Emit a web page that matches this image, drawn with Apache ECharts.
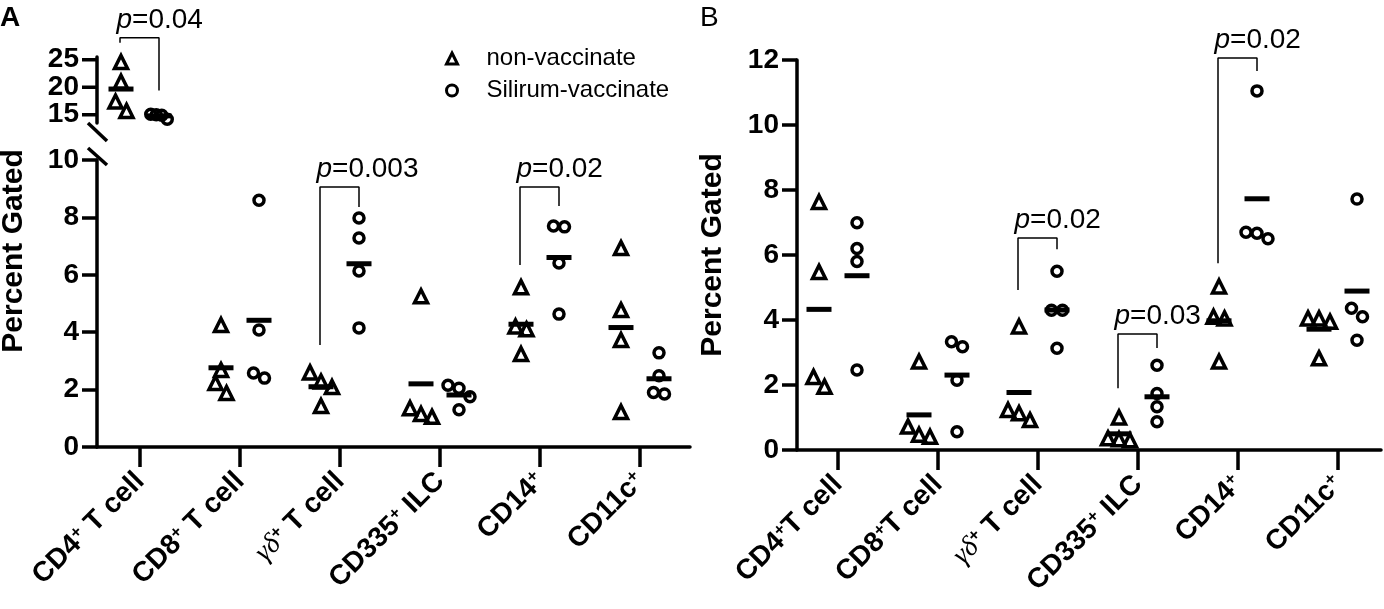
<!DOCTYPE html>
<html lang="en">
<head>
<meta charset="UTF-8">
<title>Percent Gated</title>
<script src="https://cdn.jsdelivr.net/npm/echarts@6/dist/echarts.min.js"></script>
<style>
  html, body { margin: 0; padding: 0; background: #fff; }
  #main { width: 1384px; height: 609px; }
</style>
</head>
<body>
<div id="main"></div>
<script>
// categories (a "+" becomes a superscript, "γδ" is set in serif italic)
var catsA = ['CD4+ T cell', 'CD8+ T cell', 'γδ+ T cell', 'CD335+ ILC', 'CD14+', 'CD11c+'];
var catsB = ['CD4+T cell', 'CD8+T cell', 'γδ+ T cell', 'CD335+ ILC', 'CD14+', 'CD11c+'];
var seriesNames = ['non-vaccinate', 'Silirum-vaccinate'];
var upperTicksA = [15, 20, 25];

// panel A values, one array per category
var nonVacA = [
    [24.6, 21.0, 17.4, 15.7],
    [4.25, 2.68, 2.23, 1.88],
    [2.6, 2.28, 2.09, 1.43],
    [5.25, 1.35, 1.15, 1.05],
    [5.57, 4.2, 4.1, 3.24],
    [6.93, 4.77, 3.73, 1.22]
];
var silA = [
    [15.1, 15.0, 14.9, 14.2],
    [8.6, 4.08, 2.58, 2.4],
    [7.98, 7.28, 6.13, 4.15],
    [2.15, 2.05, 1.75, 1.3],
    [7.7, 7.67, 6.41, 4.63],
    [3.28, 2.48, 1.9, 1.85]
];
// panel B values
var nonVacB = [
    [7.63, 5.48, 2.25, 1.95],
    [2.72, 0.72, 0.47, 0.41],
    [3.8, 1.23, 1.13, 0.92],
    [1.0, 0.36, 0.33, 0.3],
    [5.03, 4.1, 4.05, 2.72],
    [4.05, 4.05, 3.95, 2.82]
];
var silB = [
    [6.99, 6.2, 5.8, 2.46],
    [3.33, 3.18, 2.15, 0.56],
    [5.5, 4.3, 4.3, 3.13],
    [2.61, 1.74, 1.33, 0.87],
    [11.05, 6.7, 6.67, 6.5],
    [7.72, 4.36, 4.1, 3.38]
];

// p-value brackets: category, text, bracket top, left leg end, right leg end
var pA = [
    { cat: 0, p: '0.04', top: 29.0, l: 28.1, r: 19.4 },
    { cat: 2, p: '0.003', top: 9.06, l: 3.55, r: 8.36 },
    { cat: 4, p: '0.02', top: 9.06, l: 6.34, r: 8.4 }
];
var pB = [
    { cat: 2, p: '0.02', top: 6.52, l: 4.92, r: 6.18 },
    { cat: 3, p: '0.03', top: 3.57, l: 1.9, r: 3.14 },
    { cat: 4, p: '0.02', top: 12.06, l: 5.75, r: 11.66 }
];

var FONT = 'Arial, "Liberation Sans", Helvetica, sans-serif';
var LEFT_OFF = -0.19, RIGHT_OFF = 0.19;

function catLabel(s) {
    var out = '';
    var parts = s.split('+');
    parts.forEach(function (p, i) {
        if (p.indexOf('γδ') === 0) { out += '{g|γδ}'; p = p.slice(2); }
        if (p) out += '{b|' + p + '}';
        if (i < parts.length - 1) out += '{s|+}';
    });
    return out;
}

function mean(a) {
    var s = 0;
    a.forEach(function (v) { s += v; });
    return s / a.length;
}

// spread points that would sit on top of each other
function spread(vals, thr, step) {
    var idx = vals.map(function (v, i) { return i; }).sort(function (a, b) { return vals[b] - vals[a]; });
    var out = new Array(vals.length).fill(0);
    var clusters = [];
    idx.forEach(function (i) {
        var last = clusters[clusters.length - 1];
        if (last && Math.abs(vals[last[last.length - 1]] - vals[i]) < thr) last.push(i);
        else clusters.push([i]);
    });
    clusters.forEach(function (c) {
        c.forEach(function (i, j) { out[i] = (j - (c.length - 1) / 2) * step; });
    });
    return out;
}

function pointData(groups, offset, thr, step, cats) {
    var data = [];
    cats.forEach(function (c) {
        var vals = groups[c];
        var jit = spread(vals, thr, step);
        vals.forEach(function (v, k) { data.push([c + offset + jit[k], v]); });
    });
    return data;
}

function meanData(groups, offset, cats) {
    return cats.map(function (c) { return [c + offset, mean(groups[c])]; });
}

var pointStyle = { color: 'rgba(0,0,0,0)', borderColor: '#000', borderWidth: 3.5, opacity: 1 };

function panelSeries(tri, circ, cats, thr, step, axis) {
    return [
        {
            name: seriesNames[0], type: 'scatter', xAxisIndex: axis, yAxisIndex: axis,
            symbol: 'triangle', symbolSize: 13, itemStyle: pointStyle, z: 3,
            data: pointData(tri, LEFT_OFF, thr, 0.11, cats)
        },
        {
            name: seriesNames[1], type: 'scatter', xAxisIndex: axis, yAxisIndex: axis,
            symbol: 'circle', symbolSize: 10, itemStyle: pointStyle, z: 3,
            data: pointData(circ, RIGHT_OFF, thr, step, cats)
        },
        {
            name: 'mean', type: 'scatter', xAxisIndex: axis, yAxisIndex: axis,
            symbol: 'rect', symbolSize: [25, 5], itemStyle: { color: '#000', opacity: 1 }, z: 4,
            data: meanData(tri, LEFT_OFF, cats).concat(meanData(circ, RIGHT_OFF, cats))
        }
    ];
}

function bracketSeries(list, axis) {
    var out = [];
    list.forEach(function (b) {
        var x1 = b.cat - 0.2, x2 = b.cat + 0.19;
        out.push({
            name: 'bracket', type: 'line', xAxisIndex: axis, yAxisIndex: axis,
            symbol: 'none', clip: false, silent: true, z: 2,
            lineStyle: { color: '#000', width: 1.5, opacity: 1 },
            data: [[x1, b.l], [x1, b.top], [x2, b.top], [x2, b.r]]
        });
        out.push({
            name: 'ptext', type: 'scatter', xAxisIndex: axis, yAxisIndex: axis,
            symbolSize: 1, clip: false, silent: true, itemStyle: { color: 'rgba(0,0,0,0)', opacity: 1 },
            label: {
                show: true, position: [0, 0], align: 'left', verticalAlign: 'bottom', offset: [-3, -3],
                formatter: '{i|p}=' + b.p, fontSize: 28, fontFamily: FONT, color: '#000',
                rich: { i: { fontStyle: 'italic', fontSize: 28, fontFamily: FONT, color: '#000' } }
            },
            data: [[x1, b.top]]
        });
    });
    return out;
}

var axisLineStyle = { color: '#000', width: 3.5 };
var tickLabel = { fontSize: 28, fontWeight: 'bold', fontFamily: FONT, color: '#000', margin: 18 };

function xAxisFor(grid, min, max, cats, show) {
    return {
        type: 'value', gridIndex: grid, min: min, max: max, show: show,
        splitLine: { show: false },
        axisLine: { show: true, onZero: false, lineStyle: axisLineStyle },
        axisTick: { show: true, inside: false, length: 20, lineStyle: axisLineStyle, customValues: [0, 1, 2, 3, 4, 5] },
        axisLabel: {
            show: true, rotate: 45, margin: 30, customValues: [0, 1, 2, 3, 4, 5],
            formatter: function (v) { return catLabel(cats[Math.round(v)]); },
            rich: {
                b: { fontSize: 28, fontWeight: 'bold', fontFamily: FONT, color: '#000' },
                s: { fontSize: 17, fontWeight: 'bold', fontFamily: FONT, color: '#000', verticalAlign: 'top' },
                g: { fontSize: 28, fontStyle: 'italic', fontFamily: '"Liberation Serif", "DejaVu Serif", serif', color: '#000' }
            }
        }
    };
}

function yAxisFor(grid, min, max, interval, showMarks) {
    var ax = {
        type: 'value', gridIndex: grid, min: min, max: max,
        splitLine: { show: false },
        axisLine: { show: true, onZero: false, lineStyle: axisLineStyle },
        axisTick: { show: showMarks, length: 15, lineStyle: axisLineStyle },
        axisLabel: Object.assign({ show: showMarks }, tickLabel)
    };
    if (interval) ax.interval = interval;
    return ax;
}

var chart = echarts.init(document.getElementById('main'));

var option = {
    animation: false,
    backgroundColor: '#fff',
    grid: [
        { left: 97, top: 57, width: 593, height: 66 },
        { left: 97, top: 160, width: 593, height: 287 },
        { left: 797, top: 60, width: 584, height: 390 }
    ],
    xAxis: [
        xAxisFor(0, -0.43, 5.5, catsA, false),
        xAxisFor(1, -0.43, 5.5, catsA, true),
        xAxisFor(2, -0.41, 5.43, catsB, true)
    ],
    yAxis: [
        // upper segment of the broken axis: its ticks are placed below from the axis scale
        yAxisFor(0, 13.5, 25.5, null, false),
        yAxisFor(1, 0, 10, 2, true),
        yAxisFor(2, 0, 12, 2, true)
    ],
    legend: {
        orient: 'vertical', left: 440, top: 40, itemGap: 5,
        itemWidth: 11, itemHeight: 11,
        itemStyle: { borderWidth: 3 },
        textStyle: { fontSize: 24, fontFamily: FONT, color: '#000', padding: [0, 0, 0, 24], lineHeight: 27 },
        data: [{ name: seriesNames[0], icon: 'triangle' }, { name: seriesNames[1], icon: 'circle' }]
    },
    series: []
        .concat(panelSeries(nonVacA, silA, [0], 2.0, 0.055, 0))
        .concat(panelSeries(nonVacA, silA, [1, 2, 3, 4, 5], 0.38, 0.11, 1))
        .concat(panelSeries(nonVacB, silB, [0, 1, 2, 3, 4, 5], 0.34, 0.11, 2))
        .concat(bracketSeries(pA.slice(0, 1), 0))
        .concat(bracketSeries(pA.slice(1), 1))
        .concat(bracketSeries(pB, 2))
};

chart.setOption(option);

// broken-axis marks, upper ticks and free text
var up = chart.convertToPixel({ xAxisIndex: 0, yAxisIndex: 0 }, [-0.43, 13.5]);
var lo = chart.convertToPixel({ xAxisIndex: 1, yAxisIndex: 1 }, [-0.43, 10]);
var slash = { stroke: '#000', lineWidth: 3.5 };
var marks = [
    { type: 'line', shape: { x1: up[0] - 9, y1: up[1], x2: up[0] + 10, y2: up[1] + 18 }, style: slash },
    { type: 'line', shape: { x1: lo[0] - 9, y1: lo[1] - 12, x2: lo[0] + 10, y2: lo[1] + 5 }, style: slash },
    { type: 'text', x: 0, y: 4, style: { text: 'A', font: 'bold 28px ' + FONT, fill: '#000' } },
    { type: 'text', x: 700, y: 4, style: { text: 'B', font: '28px ' + FONT, fill: '#000' } },
    {
        type: 'text', x: 14, y: 251, rotation: Math.PI / 2,
        style: { text: 'Percent Gated', font: 'bold 30px ' + FONT, fill: '#000', align: 'center', verticalAlign: 'middle' }
    },
    {
        type: 'text', x: 713, y: 255, rotation: Math.PI / 2,
        style: { text: 'Percent Gated', font: 'bold 30px ' + FONT, fill: '#000', align: 'center', verticalAlign: 'middle' }
    }
];
upperTicksA.forEach(function (v) {
    var p = chart.convertToPixel({ xAxisIndex: 0, yAxisIndex: 0 }, [-0.43, v]);
    marks.push({ type: 'line', shape: { x1: p[0] - 15, y1: p[1], x2: p[0], y2: p[1] }, style: slash });
    marks.push({
        type: 'text', x: p[0] - 18, y: p[1],
        style: { text: String(v), font: 'bold 28px ' + FONT, fill: '#000', align: 'right', verticalAlign: 'middle' }
    });
});
chart.setOption({ graphic: marks });
</script>
</body>
</html>
